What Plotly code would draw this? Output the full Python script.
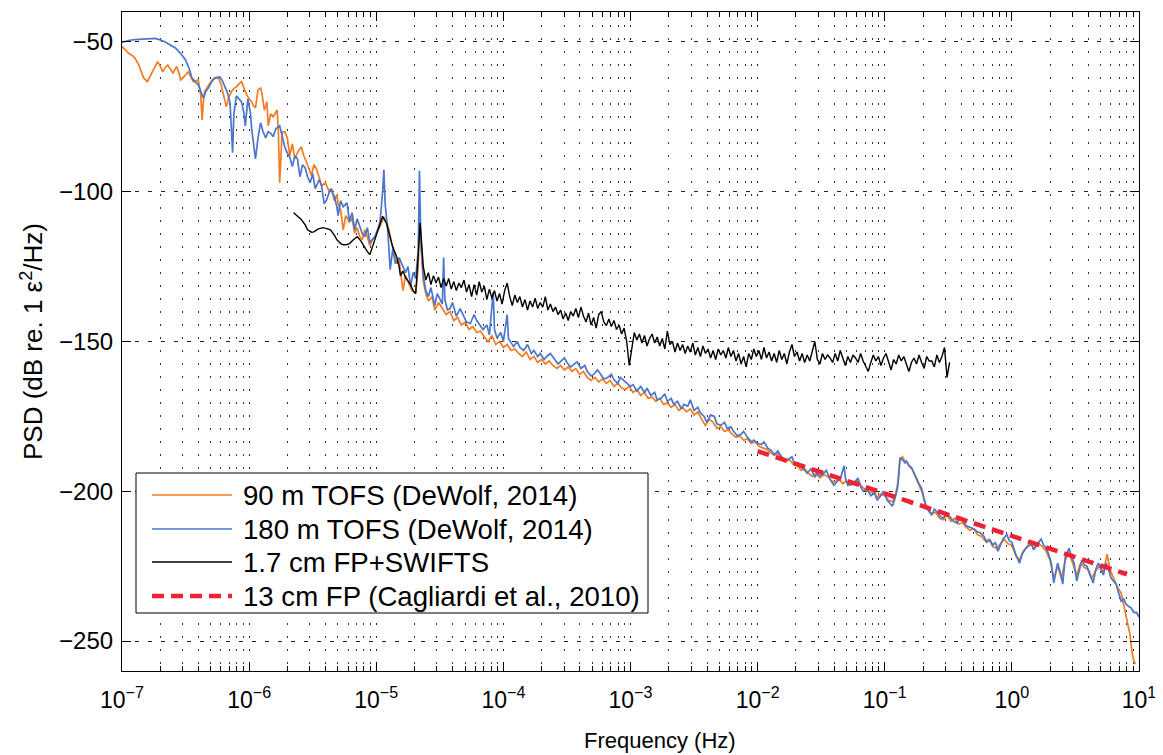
import plotly.graph_objects as go

# ---------------- data ----------------
# log10 of frequency (Hz) and PSD (dB re. 1 eps^2/Hz)
blue_logf = [-7.00,-6.95,-6.90,-6.85,-6.80,-6.74,-6.70,-6.66,-6.62,-6.58,-6.54,-6.50,-6.47,-6.45,-6.42,-6.40,-6.36,-6.34,-6.32,-6.29,
 -6.27,-6.23,-6.21,-6.19,-6.17,-6.15,-6.13,-6.12,-6.10,-6.08,-6.06,-6.04,-6.03,-6.01,-5.99,-5.98,-5.95,-5.93,-5.91,-5.89,
 -5.87,-5.85,-5.83,-5.81,-5.79,-5.76,-5.74,-5.72,-5.70,-5.68,-5.66,-5.64,-5.62,-5.60,-5.58,-5.56,-5.54,-5.52,-5.50,-5.48,
 -5.45,-5.43,-5.41,-5.39,-5.36,-5.33,-5.31,-5.30,-5.28,-5.26,-5.23,-5.21,-5.19,-5.17,-5.15,-5.13,-5.11,-5.09,-5.07,-5.05,
 -5.03,-5.01,-4.99,-4.97,-4.95,-4.94,-4.93,-4.91,-4.89,-4.87,-4.85,-4.82,-4.80,-4.77,-4.75,-4.73,-4.71,-4.69,-4.67,-4.66,
 -4.65,-4.63,-4.61,-4.59,-4.57,-4.54,-4.52,-4.50,-4.48,-4.47,-4.46,-4.44,-4.42,-4.40,-4.37,-4.34,-4.32,-4.29,-4.26,-4.23,
 -4.21,-4.18,-4.16,-4.13,-4.11,-4.08,-4.07,-4.05,-4.02,-4.00,-3.97,-3.96,-3.94,-3.92,-3.89,-3.87,-3.84,-3.81,-3.78,-3.76,
 -3.73,-3.71,-3.68,-3.66,-3.63,-3.60,-3.57,-3.55,-3.52,-3.50,-3.47,-3.45,-3.42,-3.39,-3.36,-3.34,-3.31,-3.29,-3.26,-3.24,
 -3.21,-3.18,-3.15,-3.13,-3.10,-3.08,-3.05,-3.03,-3.00,-2.98,-2.95,-2.92,-2.89,-2.87,-2.84,-2.81,-2.79,-2.76,-2.73,-2.71,
 -2.68,-2.66,-2.63,-2.60,-2.58,-2.55,-2.53,-2.50,-2.47,-2.45,-2.42,-2.40,-2.37,-2.34,-2.32,-2.29,-2.26,-2.24,-2.21,-2.19,
 -2.16,-2.13,-2.11,-2.08,-2.05,-2.03,-2.00,-1.97,-1.95,-1.92,-1.89,-1.87,-1.84,-1.82,-1.79,-1.76,-1.73,-1.71,-1.68,-1.66,
 -1.63,-1.61,-1.58,-1.55,-1.53,-1.51,-1.48,-1.46,-1.43,-1.40,-1.37,-1.35,-1.32,-1.31,-1.29,-1.27,-1.24,-1.21,-1.19,-1.17,
 -1.14,-1.11,-1.08,-1.06,-1.04,-1.01,-0.98,-0.96,-0.94,-0.92,-0.90,-0.89,-0.88,-0.86,-0.84,-0.83,-0.81,-0.79,-0.77,-0.75,
 -0.73,-0.71,-0.69,-0.67,-0.65,-0.63,-0.61,-0.59,-0.56,-0.54,-0.52,-0.49,-0.46,-0.43,-0.41,-0.38,-0.36,-0.33,-0.30,-0.27,
 -0.25,-0.22,-0.20,-0.17,-0.15,-0.13,-0.11,-0.09,-0.07,-0.04,-0.02,0.00,0.03,0.06,0.08,0.11,0.13,0.15,0.17,0.19,
 0.21,0.23,0.25,0.27,0.29,0.31,0.33,0.35,0.36,0.38,0.40,0.42,0.44,0.45,0.47,0.49,0.51,0.53,0.55,0.57,
 0.59,0.61,0.64,0.66,0.68,0.70,0.72,0.74,0.76,0.78,0.80,0.82,0.84,0.86,0.88,0.90,0.92,0.94,0.96,0.98,1.00]
blue_psd = [-50.2,-49.5,-49.2,-49.0,-48.9,-48.8,-49.3,-50.0,-51.0,-52.0,-53.8,-56.0,-59.0,-62.0,-63.5,-64.3,-68.7,-66.5,-65.3,-63.0,
 -62.0,-61.7,-63.0,-65.0,-67.0,-70.3,-87.0,-74.0,-68.0,-69.0,-70.0,-74.0,-78.0,-69.0,-73.7,-79.0,-89.0,-82.0,-77.0,-80.0,
 -82.0,-80.0,-80.5,-81.6,-79.0,-78.0,-82.0,-85.0,-87.0,-88.5,-91.6,-88.0,-89.0,-95.0,-91.0,-92.0,-95.0,-97.0,-94.0,-99.0,
 -96.0,-98.0,-104.0,-102.7,-99.0,-101.6,-105.0,-108.0,-103.0,-105.0,-103.7,-110.0,-107.0,-112.7,-109.0,-111.8,-114.0,-115.0,-112.0,-117.0,
 -116.0,-115.0,-112.7,-110.0,-100.0,-92.7,-104.0,-112.7,-126.0,-119.0,-124.0,-122.0,-124.0,-127.0,-125.0,-131.6,-127.0,-129.0,-120.0,-93.0,
 -115.0,-128.0,-133.0,-135.0,-132.0,-138.0,-134.0,-136.0,-137.5,-122.0,-136.0,-139.5,-139.0,-137.0,-141.6,-139.0,-140.7,-143.5,-144.0,-141.0,
 -143.0,-145.0,-146.0,-144.5,-147.8,-133.5,-146.0,-148.8,-147.0,-150.0,-141.0,-149.0,-150.5,-151.7,-150.0,-152.0,-153.0,-151.0,-154.0,-153.0,
 -155.0,-154.0,-156.0,-155.0,-154.0,-155.6,-157.5,-156.7,-155.5,-157.0,-158.5,-157.8,-156.8,-159.0,-158.0,-160.0,-161.5,-161.0,-159.5,-160.6,
 -162.5,-162.0,-161.0,-162.8,-164.0,-162.0,-163.0,-163.9,-165.0,-164.4,-166.5,-165.0,-167.0,-165.6,-168.0,-167.0,-169.5,-169.0,-167.5,-170.0,
 -169.0,-171.0,-170.0,-172.5,-171.0,-171.6,-169.5,-173.0,-172.0,-173.8,-175.0,-177.0,-174.5,-175.0,-177.5,-178.0,-177.0,-179.0,-178.5,-180.0,
 -181.5,-181.0,-180.0,-182.0,-183.5,-182.9,-184.0,-184.4,-183.5,-185.6,-186.5,-187.8,-186.5,-188.0,-189.5,-189.4,-188.5,-191.0,-190.5,-192.0,
 -193.0,-194.0,-192.5,-195.3,-194.0,-194.9,-194.0,-193.0,-196.0,-198.0,-196.5,-196.0,-191.5,-195.5,-198.0,-197.6,-197.0,-195.6,-198.5,-200.0,
 -199.0,-201.5,-200.6,-203.0,-202.0,-200.0,-203.0,-204.0,-205.0,-202.5,-199.0,-195.0,-188.8,-189.5,-190.5,-189.9,-191.5,-192.0,-194.0,-196.0,
 -197.5,-199.0,-203.0,-205.6,-207.0,-208.0,-206.0,-206.8,-208.5,-209.0,-207.5,-208.4,-210.0,-210.6,-209.0,-210.0,-211.5,-212.0,-212.5,-213.6,
 -213.8,-215.0,-217.0,-216.3,-218.0,-217.0,-220.0,-218.0,-216.0,-214.4,-216.5,-217.0,-221.0,-224.0,-221.0,-219.0,-218.0,-217.0,-219.5,-218.0,
 -217.0,-216.0,-218.0,-219.0,-221.0,-224.0,-230.6,-226.0,-224.0,-227.0,-231.0,-222.0,-220.0,-219.0,-222.0,-224.0,-230.0,-226.0,-223.0,-224.5,
 -225.0,-227.5,-230.6,-226.0,-224.0,-226.0,-228.0,-224.0,-226.0,-229.0,-230.0,-231.0,-234.0,-236.7,-236.0,-237.8,-238.5,-239.0,-240.5,-240.4,-242.0]

orange_logf = [-7.00,-6.97,-6.95,-6.92,-6.90,-6.87,-6.85,-6.83,-6.80,-6.78,-6.76,-6.74,-6.72,-6.70,-6.68,-6.66,-6.64,-6.62,-6.60,-6.58,
 -6.57,-6.55,-6.54,-6.52,-6.50,-6.48,-6.46,-6.44,-6.42,-6.40,-6.38,-6.37,-6.36,-6.35,-6.32,-6.29,-6.27,-6.24,-6.22,-6.20,
 -6.18,-6.16,-6.14,-6.12,-6.10,-6.08,-6.06,-6.04,-6.02,-6.00,-5.98,-5.97,-5.95,-5.93,-5.91,-5.90,-5.88,-5.86,-5.85,-5.83,
 -5.81,-5.78,-5.77,-5.76,-5.75,-5.74,-5.72,-5.70,-5.68,-5.66,-5.64,-5.62,-5.59,-5.57,-5.55,-5.53,-5.51,-5.49,-5.47,-5.45,
 -5.43,-5.40,-5.37,-5.35,-5.33,-5.31,-5.30,-5.28,-5.26,-5.24,-5.21,-5.19,-5.17,-5.15,-5.13,-5.11,-5.09,-5.07,-5.05,-5.03,
 -5.01,-4.99,-4.97,-4.95,-4.94,-4.92,-4.90,-4.88,-4.86,-4.84,-4.82,-4.79,-4.77,-4.75,-4.72,-4.69,-4.67,-4.66,-4.65,-4.63,
 -4.61,-4.59,-4.56,-4.54,-4.51,-4.48,-4.45,-4.42,-4.39,-4.36,-4.33,-4.30,-4.27,-4.24,-4.21,-4.18,-4.15,-4.12,-4.09,-4.06,
 -4.03,-4.00,-3.97,-3.94,-3.91,-3.88,-3.85,-3.82,-3.79,-3.76,-3.73,-3.70,-3.67,-3.64,-3.61,-3.58,-3.55,-3.52,-3.49,-3.46,
 -3.43,-3.40,-3.37,-3.34,-3.31,-3.28,-3.25,-3.22,-3.19,-3.16,-3.13,-3.10,-3.07,-3.04,-3.01,-2.98,-2.95,-2.92,-2.89,-2.86,
 -2.83,-2.80,-2.77,-2.74,-2.71,-2.68,-2.65,-2.62,-2.59,-2.56,-2.53,-2.50,-2.47,-2.44,-2.41,-2.38,-2.35,-2.32,-2.29,-2.26,
 -2.23,-2.20,-2.17,-2.14,-2.11,-2.08,-2.05,-2.02,-1.99,-1.96,-1.93,-1.90,-1.87,-1.84,-1.81,-1.78,-1.75,-1.72,-1.69,-1.66,
 -1.63,-1.60,-1.57,-1.54,-1.51,-1.48,-1.45,-1.42,-1.39,-1.36,-1.33,-1.30,-1.27,-1.24,-1.21,-1.18,-1.15,-1.12,-1.09,-1.06,
 -1.03,-1.00,-0.97,-0.94,-0.92,-0.90,-0.88,-0.86,-0.84,-0.82,-0.80,-0.78,-0.76,-0.74,-0.72,-0.70,-0.68,-0.66,-0.63,-0.60,
 -0.57,-0.54,-0.51,-0.48,-0.45,-0.42,-0.39,-0.36,-0.33,-0.30,-0.27,-0.24,-0.21,-0.18,-0.15,-0.12,-0.09,-0.06,-0.03,0.00,
 0.03,0.06,0.09,0.12,0.15,0.18,0.21,0.24,0.27,0.30,0.33,0.36,0.39,0.42,0.45,0.48,0.51,0.54,0.57,0.60,
 0.63,0.66,0.69,0.72,0.75,0.77,0.80,0.83,0.86,0.88,0.90,0.91,0.93,0.94,0.955,0.97]
orange_psd = [-51.5,-52.8,-53.7,-54.5,-55.3,-57.5,-60.0,-62.0,-63.2,-61.5,-60.0,-58.0,-56.6,-58.0,-60.0,-58.5,-57.7,-59.0,-60.4,-59.0,
 -58.2,-60.5,-62.7,-62.0,-61.0,-60.0,-61.5,-63.2,-63.0,-62.7,-68.0,-76.0,-70.0,-66.6,-64.5,-62.7,-62.2,-62.0,-64.3,-68.0,
 -71.6,-68.5,-66.6,-65.5,-65.0,-64.0,-63.2,-65.5,-67.6,-69.0,-70.0,-71.0,-72.0,-66.0,-65.4,-67.0,-72.8,-70.0,-78.0,-74.0,
 -75.0,-72.7,-80.0,-97.0,-85.0,-80.0,-80.0,-82.0,-88.0,-84.0,-89.0,-87.0,-85.0,-88.0,-90.0,-92.0,-94.6,-91.0,-92.4,-95.0,
 -98.0,-97.0,-100.0,-99.0,-103.0,-101.0,-104.0,-106.0,-112.7,-108.0,-110.0,-109.0,-113.8,-112.0,-115.0,-116.0,-112.7,-115.0,-118.0,-116.0,
 -115.0,-113.0,-111.6,-109.5,-108.4,-110.0,-112.7,-117.0,-121.0,-124.0,-123.0,-133.0,-128.0,-130.0,-133.0,-134.0,-125.0,-111.0,-118.0,-130.0,
 -134.0,-136.5,-135.0,-139.5,-137.0,-139.0,-141.0,-140.0,-143.0,-142.0,-144.5,-143.5,-146.0,-145.0,-147.0,-146.5,-148.5,-150.0,-148.0,-151.0,
 -150.0,-152.0,-151.0,-153.0,-152.5,-154.0,-155.0,-153.5,-156.0,-155.0,-157.0,-156.0,-157.5,-156.5,-158.0,-159.0,-158.0,-159.5,-158.5,-160.0,
 -159.0,-161.0,-160.0,-162.0,-163.0,-162.0,-163.5,-162.5,-164.0,-163.0,-165.0,-164.0,-165.5,-166.0,-165.0,-167.0,-166.0,-168.0,-167.0,-169.0,
 -168.5,-170.0,-169.0,-171.0,-170.5,-172.0,-171.0,-173.0,-172.0,-173.5,-172.5,-174.5,-173.5,-176.0,-178.0,-176.0,-177.0,-179.0,-178.5,-180.0,
 -179.5,-181.0,-182.0,-181.5,-183.0,-182.5,-184.0,-183.5,-185.0,-185.5,-186.0,-187.0,-188.0,-187.5,-189.0,-190.0,-189.5,-191.0,-191.5,-193.0,
 -192.5,-194.0,-195.0,-194.0,-195.5,-194.5,-195.0,-196.5,-197.0,-196.0,-197.5,-196.5,-198.0,-197.5,-196.5,-198.5,-199.5,-200.5,-200.0,-202.0,
 -201.0,-201.5,-203.0,-203.5,-202.0,-198.0,-189.5,-188.5,-190.0,-190.5,-192.0,-193.0,-195.0,-197.0,-198.5,-201.0,-204.0,-206.0,-207.5,-207.0,
 -209.0,-209.5,-208.0,-210.0,-209.0,-211.0,-210.5,-212.0,-213.0,-212.5,-214.5,-215.0,-216.5,-216.0,-218.5,-219.0,-217.5,-216.0,-217.5,-218.0,
 -221.5,-223.0,-220.0,-218.5,-218.0,-219.0,-217.5,-218.5,-220.0,-223.0,-229.0,-225.0,-229.0,-223.0,-220.5,-224.0,-228.0,-224.0,-225.5,-226.0,
 -229.0,-226.5,-225.0,-227.0,-221.0,-226.0,-229.0,-232.0,-234.0,-238.0,-241.0,-243.0,-248.0,-252.0,-256.0,-257.7]

black_logf = [-5.65,-5.62,-5.59,-5.56,-5.54,-5.51,-5.49,-5.46,-5.42,-5.39,-5.36,-5.33,-5.31,-5.28,-5.26,-5.23,-5.21,-5.18,-5.15,-5.12,
 -5.10,-5.07,-5.05,-5.03,-5.00,-4.97,-4.95,-4.92,-4.90,-4.87,-4.84,-4.82,-4.81,-4.79,-4.77,-4.75,-4.73,-4.71,-4.69,-4.68,
 -4.665,-4.655,-4.645,
 -4.63,-4.61,-4.59,-4.57,-4.55,-4.53,-4.51,-4.49,-4.47,-4.45,
 -4.43,-4.41,-4.39,-4.37,-4.35,-4.33,-4.31,-4.29,-4.27,-4.25,
 -4.23,-4.21,-4.19,-4.17,-4.15,-4.13,-4.11,-4.09,-4.07,-4.05,
 -4.03,-4.01,-3.99,-3.97,-3.95,-3.93,-3.91,-3.89,-3.87,-3.85,
 -3.83,-3.81,-3.79,-3.77,-3.75,-3.73,-3.71,-3.69,-3.67,-3.65,
 -3.63,-3.61,-3.59,-3.57,-3.55,-3.53,-3.51,-3.49,-3.47,-3.45,
 -3.43,-3.41,-3.39,-3.37,-3.35,-3.33,-3.31,-3.29,-3.27,-3.25,
 -3.23,-3.21,-3.19,-3.17,-3.15,-3.13,-3.11,-3.09,-3.07,-3.05,
 -3.03,-3.01,-2.99,-2.97,-2.95,-2.93,-2.91,-2.89,-2.87,-2.85,
 -2.83,-2.81,-2.79,-2.77,-2.75,-2.73,-2.71,-2.69,-2.67,-2.65,
 -2.63,-2.61,-2.59,-2.57,-2.55,-2.53,-2.51,-2.49,-2.47,-2.45,
 -2.43,-2.41,-2.39,-2.37,-2.35,-2.33,-2.31,-2.29,-2.27,-2.25,
 -2.23,-2.21,-2.19,-2.17,-2.15,-2.13,-2.11,-2.09,-2.07,-2.05,
 -2.03,-2.01,-1.99,-1.97,-1.95,-1.93,-1.91,-1.89,-1.87,-1.85,
 -1.83,-1.81,-1.79,-1.77,-1.75,-1.73,-1.71,-1.69,-1.67,-1.65,
 -1.63,-1.61,-1.59,-1.57,-1.55,-1.53,-1.51,-1.49,-1.47,-1.45,
 -1.43,-1.41,-1.39,-1.37,-1.35,-1.33,-1.31,-1.29,-1.27,-1.25,
 -1.23,-1.21,-1.19,-1.17,-1.15,-1.13,-1.11,-1.09,-1.07,-1.05,
 -1.03,-1.01,-0.99,-0.97,-0.95,-0.93,-0.91,-0.89,-0.87,-0.85,
 -0.83,-0.81,-0.79,-0.77,-0.75,-0.73,-0.71,-0.69,-0.67,-0.65,
 -0.63,-0.61,-0.59,-0.57,-0.55,-0.53,-0.51,-0.49]
black_psd = [-107.0,-108.0,-109.3,-111.0,-112.7,-113.5,-113.4,-112.5,-112.0,-112.3,-112.7,-114.5,-116.0,-117.3,-117.7,-117.6,-117.3,-116.0,-115.0,-116.5,
 -118.0,-120.0,-121.0,-118.5,-115.0,-111.0,-108.2,-110.5,-114.0,-118.5,-121.6,-125.0,-128.0,-126.5,-128.6,-130.0,-131.0,-133.0,-134.0,-128.0,
 -116.0,-110.4,-116.0,
 -125.0,-129.5,-127.0,-131.0,-128.0,-130.5,-128.5,-132.0,-129.0,-131.5,
 -129.0,-132.5,-130.0,-133.0,-130.5,-132.0,-129.5,-133.5,-131.0,-135.0,
 -131.0,-134.5,-130.0,-133.5,-131.5,-136.0,-132.5,-135.5,-133.0,-136.5,
 -134.0,-137.5,-133.0,-130.5,-135.0,-138.0,-134.5,-137.0,-135.0,-138.5,
 -136.0,-139.5,-136.5,-138.5,-135.5,-139.0,-137.0,-138.5,-135.0,-139.5,
 -137.5,-140.0,-138.5,-141.0,-139.5,-142.5,-140.5,-143.0,-140.0,-141.5,
 -139.0,-142.0,-138.5,-141.5,-143.5,-140.5,-144.5,-142.0,-145.5,-141.0,
 -140.0,-143.5,-144.7,-142.5,-145.0,-143.0,-146.0,-144.5,-147.5,-145.5,
 -150.0,-158.0,-152.0,-147.0,-149.5,-147.5,-150.5,-148.0,-151.5,-149.0,
 -147.5,-150.5,-148.5,-151.5,-149.0,-152.5,-146.5,-151.0,-150.0,-153.5,
 -150.5,-153.0,-151.0,-154.0,-151.5,-153.5,-150.5,-154.5,-152.0,-155.0,
 -151.5,-154.0,-152.5,-155.5,-153.0,-156.0,-152.5,-154.5,-153.0,-155.5,
 -152.0,-155.0,-153.0,-156.5,-154.0,-157.5,-155.0,-158.5,-154.0,-156.0,
 -152.5,-155.0,-153.0,-156.0,-152.0,-155.5,-153.5,-156.5,-154.0,-157.0,
 -153.0,-156.0,-154.0,-157.5,-153.5,-151.0,-155.0,-153.5,-156.5,-154.0,
 -157.0,-154.5,-156.5,-153.0,-150.0,-156.0,-157.5,-154.0,-156.0,-154.5,
 -155.5,-157.0,-154.0,-156.5,-153.0,-155.5,-158.0,-155.0,-157.0,-154.5,
 -155.5,-157.0,-154.0,-156.5,-158.5,-160.0,-157.0,-154.5,-156.5,-155.0,
 -158.0,-155.5,-154.0,-157.0,-159.5,-156.0,-157.5,-154.5,-156.5,-155.0,
 -157.5,-160.0,-157.0,-155.5,-157.5,-154.5,-157.0,-159.0,-155.0,-156.5,
 -156.5,-158.5,-154.5,-157.0,-155.0,-152.0,-162.0,-157.0]

red_logf = [-2.00, 0.905]
red_psd = [-186.6, -227.7]

names = ["90 m TOFS (DeWolf, 2014)", "180 m TOFS (DeWolf, 2014)",
         "1.7 cm FP+SWIFTS", "13 cm FP (Cagliardi et al., 2010)"]

x_tick_exponents = [-7, -6, -5, -4, -3, -2, -1, 0, 1]
x_tick_labels = ["10<sup>\u22127</sup>", "10<sup>\u22126</sup>", "10<sup>\u22125</sup>", "10<sup>\u22124</sup>",
                 "10<sup>\u22123</sup>", "10<sup>\u22122</sup>", "10<sup>\u22121</sup>", "10<sup>0</sup>", "10<sup>1</sup>"]
y_tick_vals = [-250, -200, -150, -100, -50]

# ---------------- figure ----------------
def hz(logs):
    return [10.0 ** v for v in logs]

FONT = "Liberation Sans, Arial, Helvetica, sans-serif"

styles = [dict(color="#F47B20", width=1.7),
          dict(color="#4A76CC", width=1.7),
          dict(color="#000000", width=1.4),
          dict(color="#EE2233", width=4.5, dash="12px,7px")]
series = [(orange_logf, orange_psd), (blue_logf, blue_psd),
          (black_logf, black_psd), (red_logf, red_psd)]

fig = go.Figure()
for (lf, ps), nm, st in zip(series, names, styles):
    fig.add_trace(go.Scatter(x=hz(lf), y=ps, mode="lines", name=nm,
                             line=st, showlegend=False))

# plot area in page pixels (page body has an 8px margin)
PL, PR, PT, PB = 122, 1139, 12, 671
def px_x(p):
    return (p - PL) / (PR - PL)
def px_y(p):
    return (PB - p) / (PB - PT)

# legend box drawn like the reference (MATLAB style)
fig.add_shape(type="rect", xref="paper", yref="paper",
              x0=px_x(136), x1=px_x(648), y0=px_y(613), y1=px_y(473),
              fillcolor="white", line=dict(color="black", width=1), layer="above")
entry_y = [495, 529, 562, 596]
for nm, st, ey in zip(names, styles, entry_y):
    ln = dict(color=st["color"], width=st["width"])
    if "dash" in st:
        ln["dash"] = st["dash"]
    fig.add_shape(type="line", xref="paper", yref="paper",
                  x0=px_x(152), x1=px_x(232), y0=px_y(ey), y1=px_y(ey),
                  line=ln, layer="above")
    fig.add_annotation(xref="paper", yref="paper", x=px_x(241), y=px_y(ey),
                       xanchor="left", yanchor="middle", text=nm, showarrow=False,
                       font=dict(size=27.6, family=FONT, color="black"))

# x axis title (placed as in the reference)
fig.add_annotation(xref="paper", yref="paper", x=px_x(660), y=px_y(740),
                   xanchor="center", yanchor="middle", text="Frequency (Hz)",
                   showarrow=False, font=dict(size=22, family=FONT, color="black"))

fig.update_layout(
    width=1155, height=747,
    margin=dict(l=PL - 8, r=1163 - PR, t=PT - 8, b=755 - PB),
    paper_bgcolor="white", plot_bgcolor="white",
    font=dict(family=FONT, size=22, color="black"),
    showlegend=False,
)

fig.update_xaxes(
    type="log", range=[-7, 1],
    tickvals=hz(x_tick_exponents), ticktext=x_tick_labels,
    ticks="inside", ticklen=9, tickcolor="black",
    showline=True, linecolor="black", linewidth=1.2, mirror="allticks",
    showgrid=True, gridcolor="#222222", gridwidth=1, griddash="2px,11px",
    minor=dict(dtick="D1", ticks="inside", ticklen=5, tickcolor="black",
               showgrid=True, gridcolor="#333333", gridwidth=1, griddash="2px,11px"),
    zeroline=False, ticklabelstandoff=8,
    tickfont=dict(size=23),
)
fig.update_yaxes(
    range=[-260, -40],
    tickvals=y_tick_vals,
    ticks="inside", ticklen=9, tickcolor="black",
    showline=True, linecolor="black", linewidth=1.2, mirror="allticks",
    showgrid=True, gridcolor="#222222", gridwidth=1, griddash="4px,9px",
    zeroline=False, ticklabelstandoff=3,
    title=dict(text="PSD (dB re. 1 \u03b5<sup>2</sup>/Hz)", font=dict(size=26), standoff=8),
    tickfont=dict(size=24),
)

fig.write_html("out.html")
